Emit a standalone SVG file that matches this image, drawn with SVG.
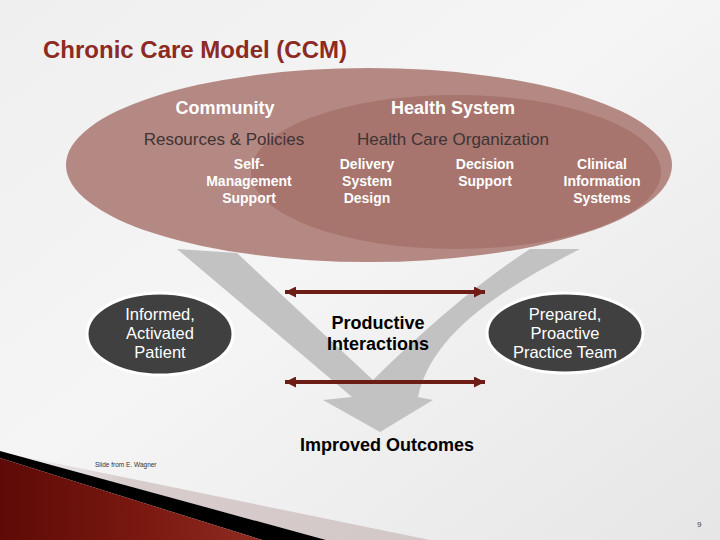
<svg xmlns="http://www.w3.org/2000/svg" width="720" height="540" viewBox="0 0 720 540">
  <defs>
    <linearGradient id="bg" x1="0" y1="0" x2="1" y2="1">
      <stop offset="0" stop-color="#efefef"/>
      <stop offset="0.45" stop-color="#f5f5f5"/>
      <stop offset="1" stop-color="#e6e6e6"/>
    </linearGradient>
    <linearGradient id="red" x1="0" y1="0" x2="1" y2="0">
      <stop offset="0" stop-color="#5e0a06"/>
      <stop offset="0.6" stop-color="#7d1a12"/>
      <stop offset="1" stop-color="#8e2c22"/>
    </linearGradient>
    <linearGradient id="pink" x1="0" y1="0" x2="1" y2="0">
      <stop offset="0" stop-color="#d8cfcf" stop-opacity="0"/>
      <stop offset="0.3" stop-color="#d8cccc"/>
      <stop offset="1" stop-color="#d3c8c8"/>
    </linearGradient>
    <marker id="ah" viewBox="0 0 10 10" refX="10" refY="5" markerUnits="userSpaceOnUse" markerWidth="12" markerHeight="11" orient="auto-start-reverse">
      <path d="M0,0 L10,5 L0,10 Z" fill="#6e1c16"/>
    </marker>
  </defs>
  <style>
    .t { font-family: "Liberation Sans", Arial, sans-serif; text-anchor: middle; }
    .hdr { font-size: 18px; font-weight: bold; fill: #ffffff; }
    .sub { font-size: 17px; fill: #3e3434; }
    .elt { font-size: 14px; font-weight: bold; fill: #ffffff; }
    .oval { fill: #404040; stroke: #ffffff; stroke-width: 3; }
    .ovt { font-size: 16.5px; fill: #ffffff; }
    .blk { font-size: 18px; font-weight: bold; fill: #000000; }
    .con { stroke: #6e1c16; stroke-width: 4; fill: none; marker-start: url(#ah); marker-end: url(#ah); }
  </style>

  <rect x="0" y="0" width="720" height="540" fill="url(#bg)"/>

  <text x="43" y="58" font-family="Liberation Sans, Arial, sans-serif" font-size="24" font-weight="bold" fill="#8c2a24">Chronic Care Model (CCM)</text>

  <g id="grey-arrow">
    <path d="M177,249 L237,253 L373,380 Q458,296 530,249 L580,249 C510,285 432,330 418,397 L433,400 L380,432 L323,400 L352,397 Z" fill="#c2c2c2"/>
  </g>

  <g id="community">
    <ellipse cx="369" cy="165" rx="303" ry="97" fill="#b48883"/>
  </g>
  <g id="health-system">
    <ellipse cx="456" cy="172" rx="205" ry="77" fill="#a7746e"/>
  </g>

  <g id="ellipse-labels">
    <text class="t hdr" x="225" y="114">Community</text>
    <text class="t hdr" x="453" y="114">Health System</text>
    <text class="t sub" x="224" y="145">Resources &amp; Policies</text>
    <text class="t sub" x="453" y="145">Health Care Organization</text>
  </g>

  <g id="self-management">
    <text class="t elt" x="249" y="169">Self-</text>
    <text class="t elt" x="249" y="186">Management</text>
    <text class="t elt" x="249" y="203">Support</text>
  </g>
  <g id="delivery-system">
    <text class="t elt" x="367" y="169">Delivery</text>
    <text class="t elt" x="367" y="186">System</text>
    <text class="t elt" x="367" y="203">Design</text>
  </g>
  <g id="decision-support">
    <text class="t elt" x="485" y="169">Decision</text>
    <text class="t elt" x="485" y="186">Support</text>
  </g>
  <g id="clinical-info">
    <text class="t elt" x="602" y="169">Clinical</text>
    <text class="t elt" x="602" y="186">Information</text>
    <text class="t elt" x="602" y="203">Systems</text>
  </g>

  <g id="connectors">
    <line class="con" x1="285" y1="292" x2="485" y2="292"/>
    <line class="con" x1="285" y1="382" x2="485" y2="382"/>
  </g>

  <g id="patient">
    <ellipse class="oval" cx="160" cy="334" rx="73" ry="41"/>
    <text class="t ovt" x="160" y="320">Informed,</text>
    <text class="t ovt" x="160" y="339">Activated</text>
    <text class="t ovt" x="160" y="358">Patient</text>
  </g>

  <g id="team">
    <ellipse class="oval" cx="565" cy="333" rx="78" ry="40"/>
    <text class="t ovt" x="565" y="320">Prepared,</text>
    <text class="t ovt" x="565" y="339">Proactive</text>
    <text class="t ovt" x="565" y="358">Practice Team</text>
  </g>

  <g id="productive-interactions">
    <text class="t blk" x="378" y="329">Productive</text>
    <text class="t blk" x="378" y="350">Interactions</text>
  </g>

  <g id="outcomes">
    <text class="t blk" x="387" y="451">Improved Outcomes</text>
  </g>

  <text x="95" y="467" font-family="Liberation Sans, Arial, sans-serif" font-size="6.5" fill="#333333">Slide from E. Wagner</text>

  <g id="corner-decoration">
    <polygon points="30,458 430,540 326,540 0,452" fill="url(#pink)"/>
    <polygon points="0,451 326,540 262,540 0,458" fill="#000000"/>
    <polygon points="0,458 262,540 0,540" fill="url(#red)"/>
  </g>

  <text x="697" y="527" font-family="Liberation Sans, Arial, sans-serif" font-size="8" fill="#444444">9</text>
</svg>
